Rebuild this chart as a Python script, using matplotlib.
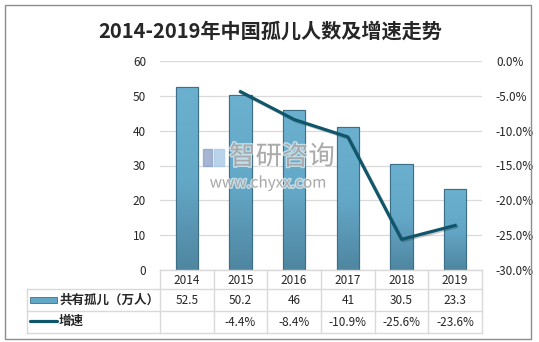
import numpy as np
import matplotlib
matplotlib.use('Agg')
import matplotlib.pyplot as plt
from matplotlib.lines import Line2D
from matplotlib.patches import Rectangle
import matplotlib.patheffects as pe

plt.rcParams['font.family'] = ['Noto Sans CJK SC', 'DejaVu Sans']

years = ['2014', '2015', '2016', '2017', '2018', '2019']
orphans = [52.5, 50.2, 46, 41, 30.5, 23.3]
growth = [None, -4.4, -8.4, -10.9, -25.6, -23.6]
orphan_labels = ['52.5', '50.2', '46', '41', '30.5', '23.3']
growth_labels = ['', '-4.4%', '-8.4%', '-10.9%', '-25.6%', '-23.6%']

W, H = 539, 342
fig = plt.figure(figsize=(W / 100, H / 100), dpi=100)

def fx(px):
    return px / W

def fy(py):
    return 1 - py / H

# outer frame
fig.patches.append(Rectangle((fx(5), fy(339)), fx(531) - fx(5), fy(5) - fy(339),
                             transform=fig.transFigure, fill=False,
                             edgecolor='#8c8c8c', linewidth=1.0))

fig.text(fx(270), fy(31), '2014-2019年中国孤儿人数及增速走势', ha='center', va='center',
         fontsize=14.5, fontweight='bold', color='#262626')

left, right, top, bottom = 160, 482, 61, 270
ax = fig.add_axes([fx(left), fy(bottom), fx(right) - fx(left), fy(top) - fy(bottom)])
x = np.arange(len(years))
bar_color = '#62a6c6'
bars = ax.bar(x, orphans, width=0.41, color=bar_color, edgecolor='#3d6f86', linewidth=0.8, zorder=3)

# vertical gradient on bars
grad = np.linspace(0, 1, 100).reshape(-1, 1)
cmap = matplotlib.colors.LinearSegmentedColormap.from_list('b', ['#4f86a0', '#64a8c8', '#6cb0d0'])
for b in bars:
    bx, by = b.get_x(), b.get_y()
    bw, bh = b.get_width(), b.get_height()
    im = ax.imshow(grad, extent=[bx, bx + bw, by, by + bh], aspect='auto',
                   cmap=cmap, origin='lower', zorder=3.5)
    im.set_clip_path(b)
    ax.add_patch(Rectangle((bx, by), bw, bh, fill=False, edgecolor='#3d6f86',
                           linewidth=0.8, zorder=3.6))

ax.set_xlim(-0.5, len(years) - 0.5)
ax.set_ylim(0, 60)
ax.set_yticks(range(0, 61, 10))
ax.yaxis.grid(True, color='#d9d9d9', linewidth=0.9, zorder=0)
ax.set_xticks([])
for s in ax.spines.values():
    s.set_visible(False)
ax.tick_params(axis='y', length=0, labelsize=8.5, colors='#262626', pad=10)

ax2 = ax.twinx()
gx = [i for i, g in enumerate(growth) if g is not None]
gy = [g for g in growth if g is not None]
ax2.plot(gx, gy, color='#10566b', linewidth=2.3, zorder=5,
         path_effects=[pe.SimpleLineShadow(offset=(1, -1), alpha=0.2), pe.Normal()])
ax2.set_ylim(-30, 0)
ax2.set_yticks(range(-30, 1, 5))
ax2.set_yticklabels([f'{v:.1f}%' for v in range(-30, 1, 5)])
ax2.tick_params(axis='y', length=0, labelsize=8.5, colors='#262626', pad=10)
for s in ax2.spines.values():
    s.set_visible(False)

# watermark
fig.patches.append(Rectangle((fx(203), fy(166)), fx(9), fy(0) - fy(17),
                             transform=fig.transFigure, color='#8fa3c8', alpha=0.8, zorder=6))
fig.patches.append(Rectangle((fx(214), fy(166)), fx(10), fy(0) - fy(17),
                             transform=fig.transFigure, color='#a9c9e6', alpha=0.8, zorder=6))
fig.text(fx(282), fy(157), '智研咨询', ha='center', va='center', fontsize=19,
         color='#a0a0a0', alpha=0.85, zorder=7,
         path_effects=[pe.withStroke(linewidth=2, foreground='white', alpha=0.6)])
fig.text(fx(268), fy(183), 'www.chyxx.com', ha='center', va='center', fontsize=11,
         color='#a0a0a0', alpha=0.85, zorder=7,
         path_effects=[pe.withStroke(linewidth=2, foreground='white', alpha=0.6)])

# data table below the chart
grid_c = '#d9d9d9'
row_y = [270, 289, 311, 333]
col_w = (right - left) / len(years)
col_x = [left + i * col_w for i in range(len(years) + 1)]
lines = [((left, right), (row_y[0], row_y[0]))]
for yy in row_y[1:]:
    lines.append(((27, right), (yy, yy)))
for xx in col_x:
    lines.append(((xx, xx), (row_y[0], row_y[3])))
lines.append(((27, 27), (row_y[1], row_y[3])))
for (xs, ys) in lines:
    fig.add_artist(Line2D([fx(v) for v in xs], [fy(v) for v in ys], color=grid_c,
                          linewidth=1.0, transform=fig.transFigure))

for i, yr in enumerate(years):
    cx = left + (i + 0.5) * col_w
    fig.text(fx(cx), fy(280), yr, ha='center', va='center', fontsize=8.5, color='#262626')
    fig.text(fx(cx), fy(300), orphan_labels[i], ha='center', va='center', fontsize=8.5, color='#262626')
    fig.text(fx(cx), fy(322), growth_labels[i], ha='center', va='center', fontsize=8.5, color='#262626')

fig.patches.append(Rectangle((fx(30), fy(303)), fx(27), fy(0) - fy(6),
                             transform=fig.transFigure, facecolor=bar_color,
                             edgecolor='#3d6f86', linewidth=0.6))
fig.add_artist(Line2D([fx(30), fx(57)], [fy(321), fy(321)], color='#10566b', linewidth=2.3,
                      transform=fig.transFigure, solid_capstyle='round'))
fig.text(fx(59), fy(300), '共有孤儿（万人）', ha='left', va='center', fontsize=9,
         fontweight='bold', color='#262626')
fig.text(fx(59), fy(321), '增速', ha='left', va='center', fontsize=9,
         fontweight='bold', color='#262626')

fig.savefig('out.png', dpi=100)
